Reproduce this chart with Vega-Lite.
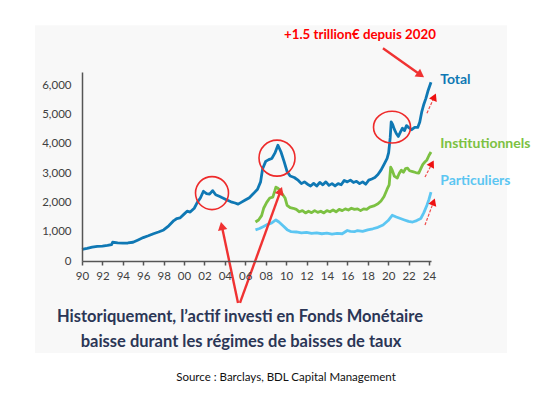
{
  "$schema": "https://vega.github.io/schema/vega-lite/v6.json",
  "width": 349,
  "height": 189,
  "autosize": {"type": "none"},
  "padding": {"left": 82, "top": 72, "right": 123, "bottom": 136},
  "background": "white",
  "config": {"view": {"stroke": null}, "font": "Lato"},
  "datasets": {
    "panel": [{"year": 1985.39, "value": 8045, "year2": 2031.64, "value2": -3136}],
    "series": [
      {"series": "Total", "year": 1990.0, "value": 400},
      {"series": "Total", "year": 1990.5, "value": 430},
      {"series": "Total", "year": 1991.0, "value": 470},
      {"series": "Total", "year": 1991.5, "value": 500},
      {"series": "Total", "year": 1992.0, "value": 510},
      {"series": "Total", "year": 1992.5, "value": 530},
      {"series": "Total", "year": 1992.9, "value": 560},
      {"series": "Total", "year": 1993.0, "value": 640},
      {"series": "Total", "year": 1993.5, "value": 620},
      {"series": "Total", "year": 1994.0, "value": 610},
      {"series": "Total", "year": 1994.5, "value": 615},
      {"series": "Total", "year": 1995.0, "value": 640},
      {"series": "Total", "year": 1995.5, "value": 720},
      {"series": "Total", "year": 1996.0, "value": 800},
      {"series": "Total", "year": 1996.5, "value": 860},
      {"series": "Total", "year": 1997.0, "value": 930},
      {"series": "Total", "year": 1997.5, "value": 990},
      {"series": "Total", "year": 1998.0, "value": 1060},
      {"series": "Total", "year": 1998.5, "value": 1200},
      {"series": "Total", "year": 1999.0, "value": 1380},
      {"series": "Total", "year": 1999.3, "value": 1450},
      {"series": "Total", "year": 1999.6, "value": 1470},
      {"series": "Total", "year": 2000.0, "value": 1600},
      {"series": "Total", "year": 2000.3, "value": 1700},
      {"series": "Total", "year": 2000.6, "value": 1670},
      {"series": "Total", "year": 2001.0, "value": 1800},
      {"series": "Total", "year": 2001.3, "value": 2000},
      {"series": "Total", "year": 2001.6, "value": 2150},
      {"series": "Total", "year": 2001.9, "value": 2380},
      {"series": "Total", "year": 2002.2, "value": 2300},
      {"series": "Total", "year": 2002.5, "value": 2280},
      {"series": "Total", "year": 2002.8, "value": 2400},
      {"series": "Total", "year": 2003.1, "value": 2260},
      {"series": "Total", "year": 2003.5, "value": 2200},
      {"series": "Total", "year": 2003.8, "value": 2150},
      {"series": "Total", "year": 2004.2, "value": 2080},
      {"series": "Total", "year": 2004.6, "value": 2020},
      {"series": "Total", "year": 2005.0, "value": 1980},
      {"series": "Total", "year": 2005.3, "value": 1940},
      {"series": "Total", "year": 2005.6, "value": 2000},
      {"series": "Total", "year": 2006.0, "value": 2080},
      {"series": "Total", "year": 2006.4, "value": 2160},
      {"series": "Total", "year": 2006.8, "value": 2300},
      {"series": "Total", "year": 2007.2, "value": 2450},
      {"series": "Total", "year": 2007.5, "value": 2700},
      {"series": "Total", "year": 2007.7, "value": 3150},
      {"series": "Total", "year": 2008.0, "value": 3400},
      {"series": "Total", "year": 2008.3, "value": 3460},
      {"series": "Total", "year": 2008.6, "value": 3500},
      {"series": "Total", "year": 2008.9, "value": 3680},
      {"series": "Total", "year": 2009.2, "value": 3950},
      {"series": "Total", "year": 2009.5, "value": 3720},
      {"series": "Total", "year": 2009.8, "value": 3400},
      {"series": "Total", "year": 2010.1, "value": 3050},
      {"series": "Total", "year": 2010.4, "value": 2900},
      {"series": "Total", "year": 2010.8, "value": 2850},
      {"series": "Total", "year": 2011.2, "value": 2750},
      {"series": "Total", "year": 2011.5, "value": 2640},
      {"series": "Total", "year": 2011.8, "value": 2700},
      {"series": "Total", "year": 2012.1, "value": 2620},
      {"series": "Total", "year": 2012.4, "value": 2560},
      {"series": "Total", "year": 2012.7, "value": 2650},
      {"series": "Total", "year": 2013.0, "value": 2560},
      {"series": "Total", "year": 2013.3, "value": 2680},
      {"series": "Total", "year": 2013.6, "value": 2600},
      {"series": "Total", "year": 2013.9, "value": 2700},
      {"series": "Total", "year": 2014.2, "value": 2580},
      {"series": "Total", "year": 2014.5, "value": 2640},
      {"series": "Total", "year": 2014.8, "value": 2560},
      {"series": "Total", "year": 2015.1, "value": 2640},
      {"series": "Total", "year": 2015.4, "value": 2600},
      {"series": "Total", "year": 2015.7, "value": 2750},
      {"series": "Total", "year": 2016.0, "value": 2700},
      {"series": "Total", "year": 2016.3, "value": 2760},
      {"series": "Total", "year": 2016.6, "value": 2680},
      {"series": "Total", "year": 2016.9, "value": 2720},
      {"series": "Total", "year": 2017.2, "value": 2640},
      {"series": "Total", "year": 2017.5, "value": 2700},
      {"series": "Total", "year": 2017.8, "value": 2620},
      {"series": "Total", "year": 2018.1, "value": 2760},
      {"series": "Total", "year": 2018.4, "value": 2800},
      {"series": "Total", "year": 2018.7, "value": 2850},
      {"series": "Total", "year": 2019.0, "value": 2950},
      {"series": "Total", "year": 2019.3, "value": 3100},
      {"series": "Total", "year": 2019.6, "value": 3300},
      {"series": "Total", "year": 2019.9, "value": 3500},
      {"series": "Total", "year": 2020.05, "value": 3700},
      {"series": "Total", "year": 2020.2, "value": 4200},
      {"series": "Total", "year": 2020.3, "value": 4750},
      {"series": "Total", "year": 2020.45, "value": 4650},
      {"series": "Total", "year": 2020.6, "value": 4500},
      {"series": "Total", "year": 2020.8, "value": 4350},
      {"series": "Total", "year": 2021.0, "value": 4250},
      {"series": "Total", "year": 2021.2, "value": 4400},
      {"series": "Total", "year": 2021.4, "value": 4530},
      {"series": "Total", "year": 2021.6, "value": 4450},
      {"series": "Total", "year": 2021.8, "value": 4620},
      {"series": "Total", "year": 2022.0, "value": 4560},
      {"series": "Total", "year": 2022.3, "value": 4480},
      {"series": "Total", "year": 2022.6, "value": 4560},
      {"series": "Total", "year": 2022.9, "value": 4560},
      {"series": "Total", "year": 2023.1, "value": 4740},
      {"series": "Total", "year": 2023.3, "value": 5100},
      {"series": "Total", "year": 2023.5, "value": 5350},
      {"series": "Total", "year": 2023.7, "value": 5550},
      {"series": "Total", "year": 2023.9, "value": 5800},
      {"series": "Total", "year": 2024.2, "value": 6100},
      {"series": "Institutionnels", "year": 2007.0, "value": 1330},
      {"series": "Institutionnels", "year": 2007.3, "value": 1400},
      {"series": "Institutionnels", "year": 2007.6, "value": 1550},
      {"series": "Institutionnels", "year": 2007.8, "value": 1800},
      {"series": "Institutionnels", "year": 2008.1, "value": 2000},
      {"series": "Institutionnels", "year": 2008.4, "value": 2150},
      {"series": "Institutionnels", "year": 2008.7, "value": 2180},
      {"series": "Institutionnels", "year": 2008.9, "value": 2400},
      {"series": "Institutionnels", "year": 2009.0, "value": 2520},
      {"series": "Institutionnels", "year": 2009.2, "value": 2480},
      {"series": "Institutionnels", "year": 2009.4, "value": 2420},
      {"series": "Institutionnels", "year": 2009.6, "value": 2300},
      {"series": "Institutionnels", "year": 2009.9, "value": 2150},
      {"series": "Institutionnels", "year": 2010.1, "value": 1900},
      {"series": "Institutionnels", "year": 2010.4, "value": 1820},
      {"series": "Institutionnels", "year": 2010.7, "value": 1800},
      {"series": "Institutionnels", "year": 2011.0, "value": 1760},
      {"series": "Institutionnels", "year": 2011.3, "value": 1680},
      {"series": "Institutionnels", "year": 2011.6, "value": 1720},
      {"series": "Institutionnels", "year": 2011.9, "value": 1640},
      {"series": "Institutionnels", "year": 2012.2, "value": 1700},
      {"series": "Institutionnels", "year": 2012.5, "value": 1650},
      {"series": "Institutionnels", "year": 2012.8, "value": 1720},
      {"series": "Institutionnels", "year": 2013.1, "value": 1660},
      {"series": "Institutionnels", "year": 2013.4, "value": 1700},
      {"series": "Institutionnels", "year": 2013.7, "value": 1640},
      {"series": "Institutionnels", "year": 2014.0, "value": 1720},
      {"series": "Institutionnels", "year": 2014.3, "value": 1680},
      {"series": "Institutionnels", "year": 2014.6, "value": 1740},
      {"series": "Institutionnels", "year": 2014.9, "value": 1680},
      {"series": "Institutionnels", "year": 2015.2, "value": 1760},
      {"series": "Institutionnels", "year": 2015.5, "value": 1720},
      {"series": "Institutionnels", "year": 2015.8, "value": 1780},
      {"series": "Institutionnels", "year": 2016.1, "value": 1740},
      {"series": "Institutionnels", "year": 2016.4, "value": 1800},
      {"series": "Institutionnels", "year": 2016.7, "value": 1760},
      {"series": "Institutionnels", "year": 2017.0, "value": 1780},
      {"series": "Institutionnels", "year": 2017.3, "value": 1720},
      {"series": "Institutionnels", "year": 2017.6, "value": 1780},
      {"series": "Institutionnels", "year": 2017.9, "value": 1760},
      {"series": "Institutionnels", "year": 2018.2, "value": 1840},
      {"series": "Institutionnels", "year": 2018.6, "value": 1880},
      {"series": "Institutionnels", "year": 2019.0, "value": 1950},
      {"series": "Institutionnels", "year": 2019.3, "value": 2050},
      {"series": "Institutionnels", "year": 2019.6, "value": 2200},
      {"series": "Institutionnels", "year": 2019.9, "value": 2450},
      {"series": "Institutionnels", "year": 2020.1, "value": 2600},
      {"series": "Institutionnels", "year": 2020.25, "value": 3200},
      {"series": "Institutionnels", "year": 2020.4, "value": 3100},
      {"series": "Institutionnels", "year": 2020.6, "value": 2900},
      {"series": "Institutionnels", "year": 2020.9, "value": 2830},
      {"series": "Institutionnels", "year": 2021.1, "value": 3000},
      {"series": "Institutionnels", "year": 2021.3, "value": 3100},
      {"series": "Institutionnels", "year": 2021.5, "value": 3030},
      {"series": "Institutionnels", "year": 2021.7, "value": 3150},
      {"series": "Institutionnels", "year": 2021.9, "value": 3170},
      {"series": "Institutionnels", "year": 2022.1, "value": 3080},
      {"series": "Institutionnels", "year": 2022.4, "value": 3050},
      {"series": "Institutionnels", "year": 2022.7, "value": 3020},
      {"series": "Institutionnels", "year": 2023.0, "value": 3000},
      {"series": "Institutionnels", "year": 2023.2, "value": 3150},
      {"series": "Institutionnels", "year": 2023.4, "value": 3300},
      {"series": "Institutionnels", "year": 2023.6, "value": 3380},
      {"series": "Institutionnels", "year": 2023.8, "value": 3450},
      {"series": "Institutionnels", "year": 2024.0, "value": 3600},
      {"series": "Institutionnels", "year": 2024.2, "value": 3720},
      {"series": "Particuliers", "year": 2007.0, "value": 1060},
      {"series": "Particuliers", "year": 2007.4, "value": 1110},
      {"series": "Particuliers", "year": 2007.8, "value": 1180},
      {"series": "Particuliers", "year": 2008.2, "value": 1250},
      {"series": "Particuliers", "year": 2008.6, "value": 1300},
      {"series": "Particuliers", "year": 2009.0, "value": 1400},
      {"series": "Particuliers", "year": 2009.3, "value": 1330},
      {"series": "Particuliers", "year": 2009.7, "value": 1200},
      {"series": "Particuliers", "year": 2010.1, "value": 1070},
      {"series": "Particuliers", "year": 2010.5, "value": 1000},
      {"series": "Particuliers", "year": 2011.0, "value": 990},
      {"series": "Particuliers", "year": 2011.5, "value": 960},
      {"series": "Particuliers", "year": 2012.0, "value": 980},
      {"series": "Particuliers", "year": 2012.5, "value": 940},
      {"series": "Particuliers", "year": 2013.0, "value": 960},
      {"series": "Particuliers", "year": 2013.5, "value": 930},
      {"series": "Particuliers", "year": 2014.0, "value": 950},
      {"series": "Particuliers", "year": 2014.5, "value": 920},
      {"series": "Particuliers", "year": 2015.0, "value": 940},
      {"series": "Particuliers", "year": 2015.5, "value": 930},
      {"series": "Particuliers", "year": 2016.0, "value": 1040},
      {"series": "Particuliers", "year": 2016.3, "value": 1010},
      {"series": "Particuliers", "year": 2016.7, "value": 1000},
      {"series": "Particuliers", "year": 2017.0, "value": 1040},
      {"series": "Particuliers", "year": 2017.5, "value": 1010},
      {"series": "Particuliers", "year": 2018.0, "value": 1060},
      {"series": "Particuliers", "year": 2018.5, "value": 1100},
      {"series": "Particuliers", "year": 2019.0, "value": 1150},
      {"series": "Particuliers", "year": 2019.5, "value": 1230},
      {"series": "Particuliers", "year": 2020.0, "value": 1380},
      {"series": "Particuliers", "year": 2020.4, "value": 1560},
      {"series": "Particuliers", "year": 2020.8, "value": 1500},
      {"series": "Particuliers", "year": 2021.2, "value": 1450},
      {"series": "Particuliers", "year": 2021.6, "value": 1400},
      {"series": "Particuliers", "year": 2022.0, "value": 1350},
      {"series": "Particuliers", "year": 2022.4, "value": 1330},
      {"series": "Particuliers", "year": 2022.8, "value": 1380},
      {"series": "Particuliers", "year": 2023.2, "value": 1450},
      {"series": "Particuliers", "year": 2023.5, "value": 1650},
      {"series": "Particuliers", "year": 2023.8, "value": 1900},
      {"series": "Particuliers", "year": 2024.0, "value": 2100},
      {"series": "Particuliers", "year": 2024.2, "value": 2350}
    ],
    "circles": [
      {"id": "c1", "year": 2002.74, "value": 2318},
      {"id": "c2", "year": 2009.11, "value": 3511},
      {"id": "c3", "year": 2020.38, "value": 4568}
    ],
    "arrows": [
      {"id": "a1", "year": 2005.29, "value": -1432, "year2": 2003.70, "value2": 1197},
      {"id": "a2", "year": 2005.48, "value": -1432, "year2": 2009.46, "value2": 2393},
      {"id": "a3", "year": 2019.49, "value": 7261, "year2": 2023.19, "value2": 6351},
      {"id": "s1", "year": 2023.80, "value": 5045, "year2": 2024.53, "value2": 5601},
      {"id": "s2", "year": 2023.61, "value": 2864, "year2": 2024.30, "value2": 3324},
      {"id": "s3", "year": 2023.61, "value": 1227, "year2": 2024.45, "value2": 2018}
    ],
    "labels": [
      {"series": "Total", "label": "Total", "year": 2025.1, "value": 6170},
      {"series": "Institutionnels", "label": "Institutionnels", "year": 2025.1, "value": 3990},
      {"series": "Particuliers", "label": "Particuliers", "year": 2025.1, "value": 2727}
    ],
    "notes": [
      {"id": "top", "label": "+1.5 trillion€ depuis 2020", "year": 2017.24, "value": 7705},
      {"id": "b1", "label": "Historiquement, l’actif investi en Fonds Monétaire", "year": 2005.48, "value": -1909},
      {"id": "b2", "label": "baisse durant les régimes de baisses de taux", "year": 2005.58, "value": -2761},
      {"id": "src", "label": "Source : Barclays, BDL Capital Management", "year": 2009.99, "value": -3989}
    ]
  },
  "encoding": {
    "x": {
      "field": "year", "type": "quantitative",
      "scale": {"domain": [1990, 2024.2], "nice": false, "zero": false},
      "axis": {
        "title": null, "grid": false, "zindex": 1,
        "values": [1990, 1992, 1994, 1996, 1998, 2000, 2002, 2004, 2006, 2008, 2010, 2012, 2014, 2016, 2018, 2020, 2022, 2024],
        "labelExpr": "format(datum.value % 100, '02d')",
        "labelFlush": false, "labelOverlap": false,
        "domainColor": "#555555", "domainWidth": 1.5,
        "tickColor": "#555555", "tickWidth": 1.5, "tickSize": 4,
        "labelColor": "#404040", "labelFont": "Lato", "labelFontSize": 11.5, "labelPadding": 5
      }
    },
    "y": {
      "field": "value", "type": "quantitative",
      "scale": {"domain": [0, 6450], "nice": false, "zero": false},
      "axis": {
        "title": null, "grid": false, "zindex": 1,
        "values": [0, 1000, 2000, 3000, 4000, 5000, 6000],
        "format": ",.0f",
        "ticks": false,
        "labelFlush": false, "labelOverlap": false,
        "domainColor": "#555555", "domainWidth": 1.5,
        "labelColor": "#404040", "labelFont": "Lato", "labelFontSize": 11.5, "labelPadding": 11
      }
    }
  },
  "layer": [
    {
      "data": {"name": "panel"},
      "mark": {"type": "rect", "color": "#f8f8f8"},
      "encoding": {"x2": {"field": "year2"}, "y2": {"field": "value2"}}
    },
    {
      "data": {"name": "series"},
      "mark": {"type": "line", "strokeWidth": 2.8, "strokeJoin": "round"},
      "encoding": {
        "color": {
          "field": "series", "type": "nominal", "legend": null,
          "scale": {"domain": ["Total", "Institutionnels", "Particuliers"], "range": ["#0f78b4", "#7cc142", "#5cc6f2"]}
        }
      }
    },
    {
      "data": {"name": "circles"},
      "transform": [{"filter": "datum.id == 'c1'"}],
      "mark": {"type": "point", "shape": "circle", "filled": false, "stroke": "#ee2a2a", "strokeWidth": 1.6, "size": 1089, "opacity": 1}
    },
    {
      "data": {"name": "circles"},
      "transform": [{"filter": "datum.id == 'c2'"}],
      "mark": {"type": "point", "shape": "circle", "filled": false, "stroke": "#ee2a2a", "strokeWidth": 1.6, "size": 1296, "opacity": 1}
    },
    {
      "data": {"name": "circles"},
      "transform": [{"filter": "datum.id == 'c3'"}],
      "mark": {"type": "point", "shape": "M-1,0A1,0.86 0 1,1 1,0A1,0.86 0 1,1 -1,0Z", "filled": false, "stroke": "#ee2a2a", "strokeWidth": 1.6, "size": 1369, "opacity": 1}
    },
    {
      "data": {"name": "arrows"},
      "transform": [{"filter": "datum.id == 'a1' || datum.id == 'a2' || datum.id == 'a3'"}],
      "mark": {"type": "rule", "color": "#f03232", "strokeWidth": 2.4},
      "encoding": {"x2": {"field": "year2"}, "y2": {"field": "value2"}}
    },
    {
      "data": {"name": "arrows"},
      "transform": [{"filter": "datum.id == 's1' || datum.id == 's2' || datum.id == 's3'"}],
      "mark": {"type": "rule", "color": "#f04a4a", "strokeWidth": 1.2, "strokeDash": [3, 1.5]},
      "encoding": {"x2": {"field": "year2"}, "y2": {"field": "value2"}}
    },
    {
      "data": {"name": "arrows"},
      "transform": [{"filter": "datum.id == 'a1'"}],
      "mark": {"type": "point", "shape": "triangle-up", "filled": true, "color": "#f03232", "size": 90, "angle": 348, "opacity": 1},
      "encoding": {"x": {"field": "year2"}, "y": {"field": "value2"}}
    },
    {
      "data": {"name": "arrows"},
      "transform": [{"filter": "datum.id == 'a2'"}],
      "mark": {"type": "point", "shape": "triangle-up", "filled": true, "color": "#f03232", "size": 90, "angle": 20, "opacity": 1},
      "encoding": {"x": {"field": "year2"}, "y": {"field": "value2"}}
    },
    {
      "data": {"name": "arrows"},
      "transform": [{"filter": "datum.id == 'a3'"}],
      "mark": {"type": "point", "shape": "triangle-up", "filled": true, "color": "#f03232", "size": 90, "angle": 125, "opacity": 1},
      "encoding": {"x": {"field": "year2"}, "y": {"field": "value2"}}
    },
    {
      "data": {"name": "arrows"},
      "transform": [{"filter": "datum.id == 's1'"}],
      "mark": {"type": "point", "shape": "triangle-up", "filled": true, "color": "#ee1111", "size": 70, "angle": 24, "opacity": 1},
      "encoding": {"x": {"field": "year2"}, "y": {"field": "value2"}}
    },
    {
      "data": {"name": "arrows"},
      "transform": [{"filter": "datum.id == 's2'"}],
      "mark": {"type": "point", "shape": "triangle-up", "filled": true, "color": "#ee1111", "size": 70, "angle": 28, "opacity": 1},
      "encoding": {"x": {"field": "year2"}, "y": {"field": "value2"}}
    },
    {
      "data": {"name": "arrows"},
      "transform": [{"filter": "datum.id == 's3'"}],
      "mark": {"type": "point", "shape": "triangle-up", "filled": true, "color": "#ee1111", "size": 70, "angle": 20, "opacity": 1},
      "encoding": {"x": {"field": "year2"}, "y": {"field": "value2"}}
    },
    {
      "data": {"name": "labels"},
      "mark": {"type": "text", "align": "left", "baseline": "middle", "font": "Lato", "fontWeight": "bold", "fontSize": 14},
      "encoding": {
        "text": {"field": "label"},
        "color": {
          "field": "series", "type": "nominal", "legend": null,
          "scale": {"domain": ["Total", "Institutionnels", "Particuliers"], "range": ["#0f78b4", "#7cc142", "#5cc6f2"]}
        }
      }
    },
    {
      "data": {"name": "notes"},
      "transform": [{"filter": "datum.id == 'top'"}],
      "mark": {"type": "text", "align": "center", "baseline": "middle", "font": "Lato", "fontWeight": "bold", "fontSize": 13.3, "color": "#ff0000"},
      "encoding": {"text": {"field": "label"}}
    },
    {
      "data": {"name": "notes"},
      "transform": [{"filter": "datum.id == 'b1' || datum.id == 'b2'"}],
      "mark": {"type": "text", "align": "center", "baseline": "middle", "font": "Lato", "fontWeight": "bold", "fontSize": 16.5, "color": "#2b3656"},
      "encoding": {"text": {"field": "label"}}
    },
    {
      "data": {"name": "notes"},
      "transform": [{"filter": "datum.id == 'src'"}],
      "mark": {"type": "text", "align": "center", "baseline": "middle", "font": "Lato", "fontSize": 11.5, "color": "#111111"},
      "encoding": {"text": {"field": "label"}}
    }
  ]
}
